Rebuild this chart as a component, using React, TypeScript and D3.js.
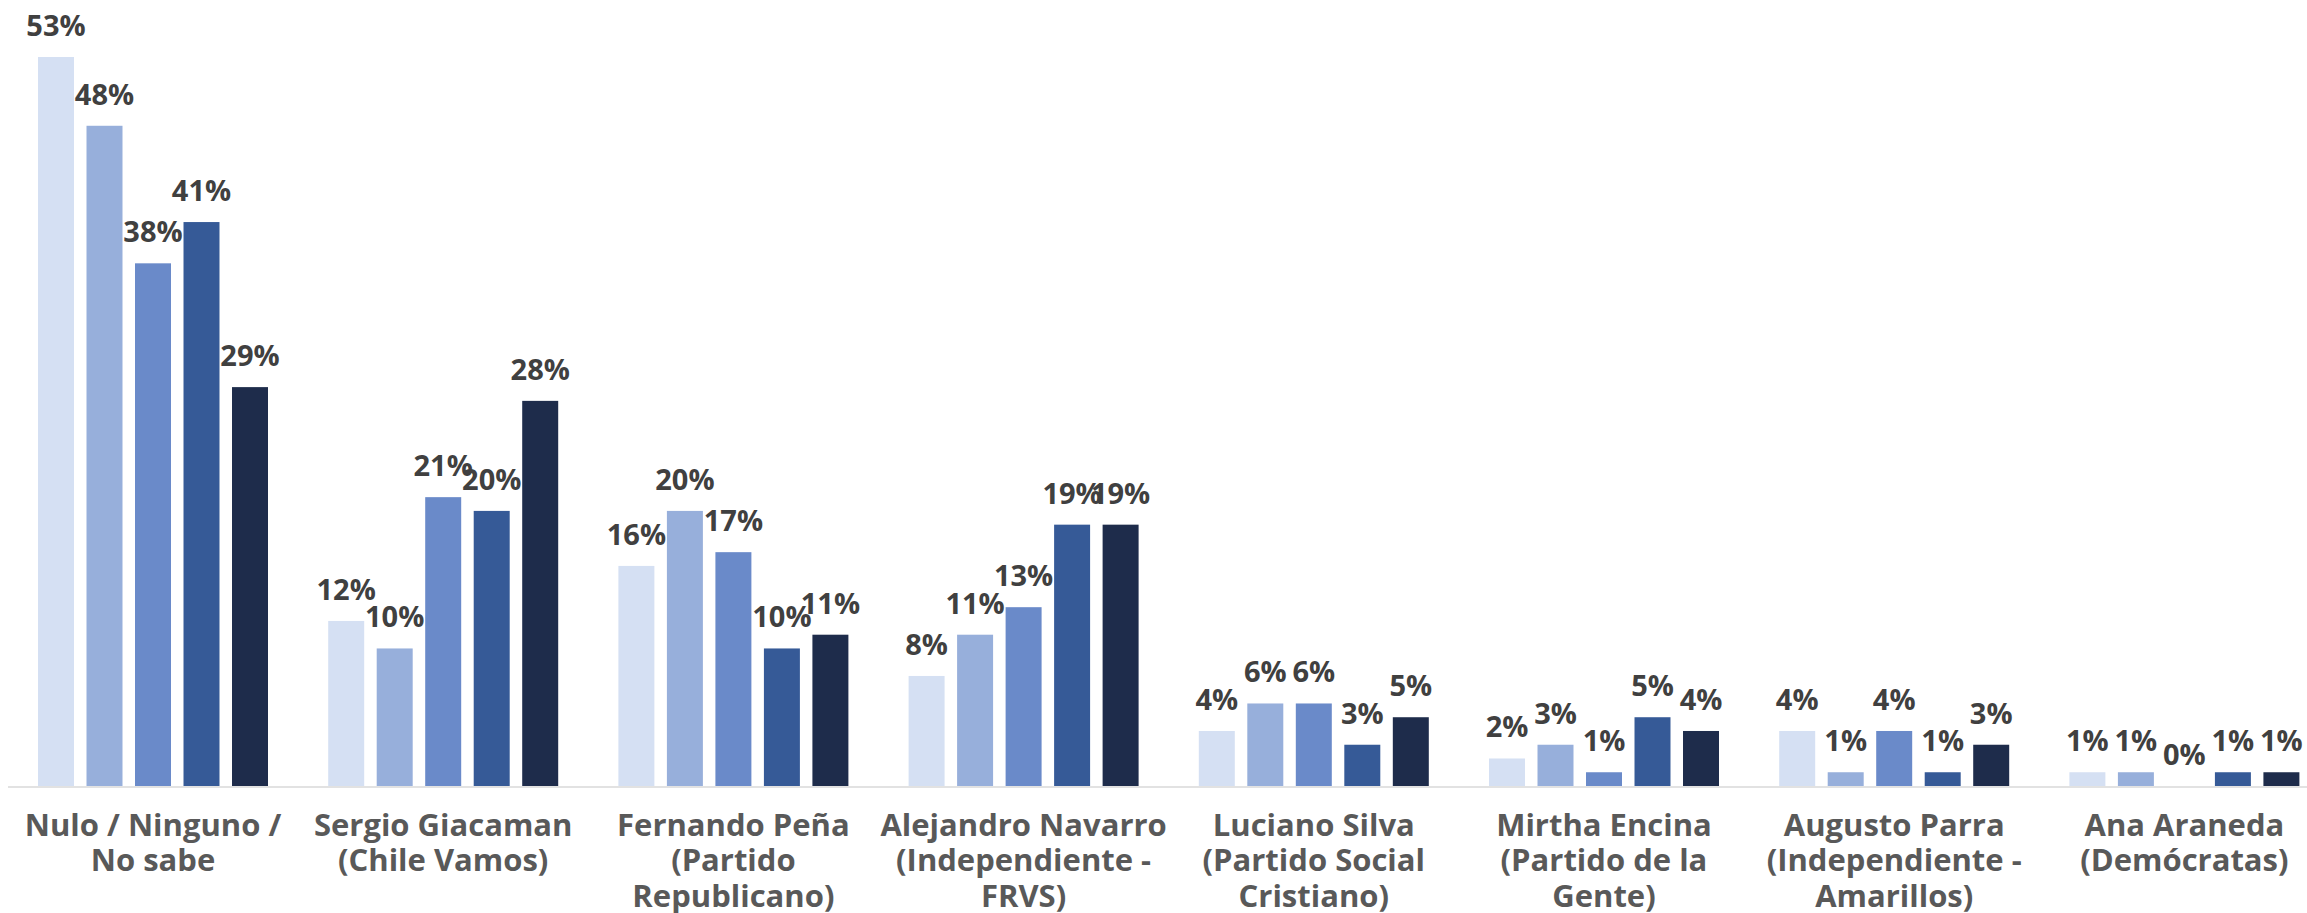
import React from "react";
import * as d3 from "d3";

const categories: string[][] = [
  ["Nulo / Ninguno /", "No sabe"],
  ["Sergio Giacaman", "(Chile Vamos)"],
  ["Fernando Peña", "(Partido", "Republicano)"],
  ["Alejandro Navarro", "(Independiente -", "FRVS)"],
  ["Luciano Silva", "(Partido Social", "Cristiano)"],
  ["Mirtha Encina", "(Partido de la", "Gente)"],
  ["Augusto Parra", "(Independiente -", "Amarillos)"],
  ["Ana Araneda", "(Demócratas)"],
];

const seriesNames = ["s1", "s2", "s3", "s4", "s5"];
const seriesColors = ["#D5E0F3", "#97AFDB", "#6A8AC9", "#365A97", "#1E2C4B"];

const s1 = [53, 12, 16, 8, 4, 2, 4, 1];
const s2 = [48, 10, 20, 11, 6, 3, 1, 1];
const s3 = [38, 21, 17, 13, 6, 1, 4, 0];
const s4 = [41, 20, 10, 19, 3, 5, 1, 1];
const s5 = [29, 28, 11, 19, 5, 4, 3, 1];
const seriesValues = [s1, s2, s3, s4, s5];

const W = 2307;
const H = 913;
const FONT = "'Open Sans', 'Noto Sans', sans-serif";

export default function App() {
  const step = 290.2;
  const x0 = d3
    .scaleBand<number>()
    .domain(categories.map((_, i) => i))
    .range([7.9, 7.9 + step * categories.length])
    .padding(0);
  const x1 = d3
    .scaleBand<string>()
    .domain(seriesNames)
    .range([30.1, 260.1])
    .paddingInner(0.258)
    .paddingOuter(0);
  const y = d3.scaleLinear().domain([0, 53]).range([786, 57]);

  return (
    <svg
      width={W}
      height={H}
      style={{ position: "absolute", left: 0, top: 0, background: "#fff" }}
    >
      <line x1={8} x2={W} y1={787} y2={787} stroke="#D9D9D9" strokeWidth={1.6} />
      {categories.map((lines, ci) => {
        const gx = x0(ci)!;
        return (
          <g key={ci} transform={`translate(${gx},0)`}>
            {seriesNames.map((s, si) => {
              const v = seriesValues[si][ci];
              const bx = x1(s)!;
              const bw = x1.bandwidth();
              return (
                <g key={s}>
                  <rect
                    x={bx}
                    y={y(v)}
                    width={bw}
                    height={y(0) - y(v)}
                    fill={seriesColors[si]}
                  />
                  <text
                    x={bx + bw / 2}
                    y={y(v) - 21}
                    textAnchor="middle"
                    fontFamily={FONT}
                    fontWeight={700}
                    fontSize={29}
                    fill="#404040"
                  >
                    {`${v}%`}
                  </text>
                </g>
              );
            })}
            {lines.map((ln, li) => (
              <text
                key={li}
                x={x0.bandwidth() / 2}
                y={835.7 + li * 35.5}
                textAnchor="middle"
                fontFamily={FONT}
                fontWeight={700}
                fontSize={31}
                fill="#595959"
              >
                {ln}
              </text>
            ))}
          </g>
        );
      })}
    </svg>
  );
}
